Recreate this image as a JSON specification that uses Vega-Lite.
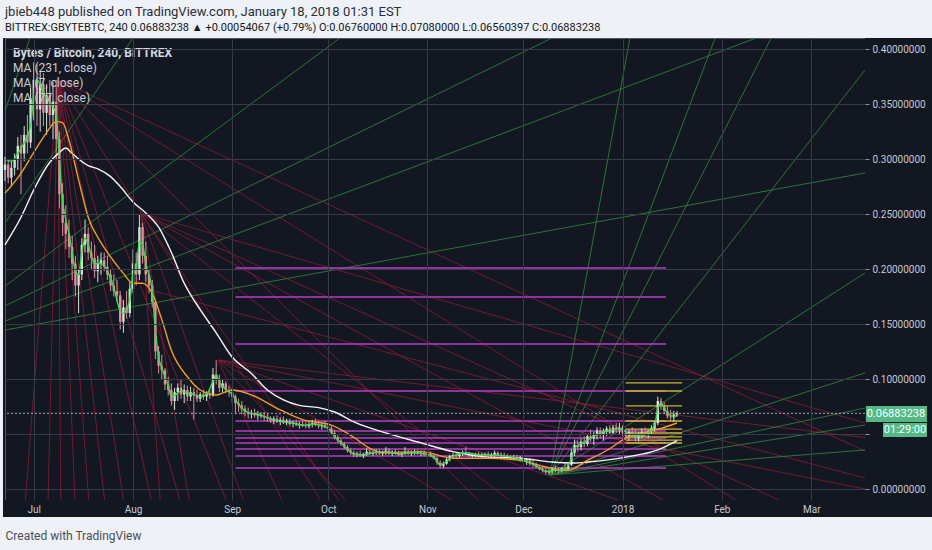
{
  "$schema": "https://vega.github.io/schema/vega-lite/v6.json",
  "description": "Bytes / Bitcoin 4h chart with moving averages, fan lines and levels (TradingView style).",
  "autosize": "none",
  "width": 860,
  "height": 462,
  "padding": {"left": 5, "top": 38, "right": 67, "bottom": 50},
  "background": "#eef1f6",
  "title": {
    "text": "jbieb448 published on TradingView.com, January 18, 2018 01:31 EST",
    "subtitle": "BITTREX:GBYTEBTC, 240 0.06883238 ▲ +0.00054067 (+0.79%) O:0.06760000 H:0.07080000 L:0.06560397 C:0.06883238",
    "anchor": "start",
    "frame": "group",
    "offset": 5,
    "font": "Roboto",
    "fontSize": 13,
    "fontWeight": "normal",
    "color": "#2a2e39",
    "subtitleFont": "Roboto",
    "subtitleFontSize": 11,
    "subtitleColor": "#131722",
    "subtitlePadding": 3
  },
  "datasets": {
    "panels": [
      {"d1": "2018-03-17T18:00:00Z", "d2": "2018-04-12", "p1": -0.0255, "p2": 0.41, "k": "bg"},
      {"d1": "2017-06-21T09:00:00Z", "d2": "2018-04-12", "p1": -0.0255, "p2": -0.01, "k": "bg"},
      {"d1": "2017-06-21T09:00:00Z", "d2": "2017-06-22", "p1": -0.0255, "p2": 0.41, "k": "bg"},
      {"d1": "2018-03-18T01:00:00Z", "d2": "2018-04-06T03:00:00Z", "p1": 0.0609, "p2": 0.0755, "k": "box"},
      {"d1": "2018-03-23T09:00:00Z", "d2": "2018-04-06T03:00:00Z", "p1": 0.0473, "p2": 0.0600, "k": "box"}
    ],
    "fans": [
      {"d1": "2017-06-22", "p1": 0.1845, "d2": "2017-10-04T17:00:00Z", "p2": 0.41, "k": "g"},
      {"d1": "2017-06-22", "p1": 0.1664, "d2": "2017-12-09T22:00:00Z", "p2": 0.41, "k": "g"},
      {"d1": "2017-06-22", "p1": 0.1527, "d2": "2018-02-11T17:00:00Z", "p2": 0.41, "k": "g"},
      {"d1": "2017-06-22", "p1": 0.1445, "d2": "2018-03-17T18:00:00Z", "p2": 0.2873, "k": "g"},
      {"d1": "2017-06-22", "p1": 0.2418, "d2": "2017-08-01", "p2": 0.41, "k": "g"},
      {"d1": "2017-06-22", "p1": 0.3436, "d2": "2017-06-29T19:00:00Z", "p2": 0.41, "k": "g"},
      {"d1": "2017-12-09T08:00:00Z", "p1": 0.0127, "d2": "2018-01-03T07:00:00Z", "p2": 0.41, "k": "g"},
      {"d1": "2017-12-09T08:00:00Z", "p1": 0.0127, "d2": "2018-01-29T22:00:00Z", "p2": 0.41, "k": "g"},
      {"d1": "2017-12-09T08:00:00Z", "p1": 0.0127, "d2": "2018-02-16T10:00:00Z", "p2": 0.41, "k": "g"},
      {"d1": "2017-12-09T08:00:00Z", "p1": 0.0127, "d2": "2018-03-17T18:00:00Z", "p2": 0.381, "k": "g"},
      {"d1": "2017-12-09T08:00:00Z", "p1": 0.0127, "d2": "2018-03-17T18:00:00Z", "p2": 0.1964, "k": "g"},
      {"d1": "2017-12-09T08:00:00Z", "p1": 0.0127, "d2": "2018-03-17T18:00:00Z", "p2": 0.1055, "k": "g"},
      {"d1": "2017-12-09T08:00:00Z", "p1": 0.0127, "d2": "2018-03-17T18:00:00Z", "p2": 0.0736, "k": "g"},
      {"d1": "2017-12-09T08:00:00Z", "p1": 0.0127, "d2": "2018-03-17T18:00:00Z", "p2": 0.0582, "k": "g"},
      {"d1": "2017-12-09T08:00:00Z", "p1": 0.0127, "d2": "2018-03-17T18:00:00Z", "p2": 0.0355, "k": "g"},
      {"d1": "2017-07-08T13:00:00Z", "p1": 0.3718, "d2": "2018-02-07T19:00:00Z", "p2": -0.0145, "k": "r"},
      {"d1": "2017-07-08T13:00:00Z", "p1": 0.3718, "d2": "2018-03-17T18:00:00Z", "p2": 0.0345, "k": "r"},
      {"d1": "2017-07-08T13:00:00Z", "p1": 0.3718, "d2": "2017-11-18T10:00:00Z", "p2": -0.0145, "k": "r"},
      {"d1": "2017-07-08T13:00:00Z", "p1": 0.3718, "d2": "2017-09-29T14:00:00Z", "p2": -0.0145, "k": "r"},
      {"d1": "2017-07-08T13:00:00Z", "p1": 0.3718, "d2": "2017-08-30T17:00:00Z", "p2": -0.0145, "k": "r"},
      {"d1": "2017-07-08T13:00:00Z", "p1": 0.3718, "d2": "2017-08-16T02:00:00Z", "p2": -0.0145, "k": "r"},
      {"d1": "2017-07-08T13:00:00Z", "p1": 0.3718, "d2": "2017-08-07T02:00:00Z", "p2": -0.0145, "k": "r"},
      {"d1": "2017-07-08T13:00:00Z", "p1": 0.3718, "d2": "2017-07-29T07:00:00Z", "p2": -0.0145, "k": "r"},
      {"d1": "2017-07-08T13:00:00Z", "p1": 0.3718, "d2": "2017-07-23T07:00:00Z", "p2": -0.0145, "k": "r"},
      {"d1": "2017-07-08T13:00:00Z", "p1": 0.3718, "d2": "2017-07-18T07:00:00Z", "p2": -0.0145, "k": "r"},
      {"d1": "2017-07-08T13:00:00Z", "p1": 0.3718, "d2": "2017-07-13T22:00:00Z", "p2": -0.0145, "k": "r"},
      {"d1": "2017-07-08T13:00:00Z", "p1": 0.3718, "d2": "2017-07-09T10:00:00Z", "p2": -0.0145, "k": "r"},
      {"d1": "2017-07-08T13:00:00Z", "p1": 0.3718, "d2": "2017-07-05T10:00:00Z", "p2": -0.0145, "k": "r"},
      {"d1": "2017-07-08T13:00:00Z", "p1": 0.3718, "d2": "2017-06-28T06:00:00Z", "p2": -0.0145, "k": "r"},
      {"d1": "2017-08-03T12:00:00Z", "p1": 0.2509, "d2": "2018-03-17T18:00:00Z", "p2": 0.060, "k": "r"},
      {"d1": "2017-08-03T12:00:00Z", "p1": 0.2509, "d2": "2018-02-22T07:00:00Z", "p2": -0.0145, "k": "r"},
      {"d1": "2017-08-03T12:00:00Z", "p1": 0.2509, "d2": "2018-01-16T10:00:00Z", "p2": -0.0145, "k": "r"},
      {"d1": "2017-08-03T12:00:00Z", "p1": 0.2509, "d2": "2017-11-28T10:00:00Z", "p2": -0.0145, "k": "r"},
      {"d1": "2017-08-03T12:00:00Z", "p1": 0.2509, "d2": "2017-10-05T07:00:00Z", "p2": -0.0145, "k": "r"},
      {"d1": "2017-08-03T12:00:00Z", "p1": 0.2509, "d2": "2017-09-05", "p2": -0.0145, "k": "r"},
      {"d1": "2017-08-03T12:00:00Z", "p1": 0.2509, "d2": "2017-08-18T19:00:00Z", "p2": -0.0145, "k": "r"},
      {"d1": "2017-08-03T12:00:00Z", "p1": 0.2509, "d2": "2017-08-09T14:00:00Z", "p2": -0.0145, "k": "r"},
      {"d1": "2017-08-27T13:00:00Z", "p1": 0.1173, "d2": "2018-03-17T18:00:00Z", "p2": 0.0467, "k": "r"},
      {"d1": "2017-08-27T13:00:00Z", "p1": 0.1173, "d2": "2018-03-17T18:00:00Z", "p2": 0.0, "k": "r"},
      {"d1": "2017-08-27T13:00:00Z", "p1": 0.1173, "d2": "2018-01-03T22:00:00Z", "p2": -0.0145, "k": "r"},
      {"d1": "2017-08-27T13:00:00Z", "p1": 0.1173, "d2": "2017-11-11T05:00:00Z", "p2": -0.0145, "k": "r"},
      {"d1": "2017-08-27T13:00:00Z", "p1": 0.1173, "d2": "2017-10-07T19:00:00Z", "p2": -0.0145, "k": "r"},
      {"d1": "2017-08-27T13:00:00Z", "p1": 0.1173, "d2": "2017-09-17T05:00:00Z", "p2": -0.0145, "k": "r"},
      {"d1": "2017-08-06T07:00:00Z", "p1": 0.1809, "d2": "2018-03-17T18:00:00Z", "p2": 0.010, "k": "r"}
    ],
    "levels": [
      {"d1": "2017-09-02", "d2": "2018-01-14T14:00:00Z", "p": 0.2009, "k": "m"},
      {"d1": "2017-09-02", "d2": "2018-01-14T14:00:00Z", "p": 0.1745, "k": "m"},
      {"d1": "2017-09-02", "d2": "2018-01-14T14:00:00Z", "p": 0.1318, "k": "m"},
      {"d1": "2017-09-02", "d2": "2018-01-14T14:00:00Z", "p": 0.0891, "k": "m"},
      {"d1": "2017-09-02", "d2": "2018-01-14T14:00:00Z", "p": 0.0618, "k": "m"},
      {"d1": "2017-09-02", "d2": "2018-01-14T14:00:00Z", "p": 0.0527, "k": "m"},
      {"d1": "2017-09-02", "d2": "2018-01-14T14:00:00Z", "p": 0.0464, "k": "m"},
      {"d1": "2017-09-02", "d2": "2018-01-14T14:00:00Z", "p": 0.0418, "k": "m"},
      {"d1": "2017-09-02", "d2": "2018-01-14T14:00:00Z", "p": 0.0364, "k": "m"},
      {"d1": "2017-09-02", "d2": "2018-01-14T14:00:00Z", "p": 0.0300, "k": "m"},
      {"d1": "2017-09-02", "d2": "2018-01-14T14:00:00Z", "p": 0.0191, "k": "m"},
      {"d1": "2018-01-02", "d2": "2018-01-19T14:00:00Z", "p": 0.0964, "k": "y"},
      {"d1": "2018-01-02", "d2": "2018-01-19T14:00:00Z", "p": 0.0891, "k": "y"},
      {"d1": "2018-01-02", "d2": "2018-01-19T14:00:00Z", "p": 0.0755, "k": "y"},
      {"d1": "2018-01-02", "d2": "2018-01-19T14:00:00Z", "p": 0.0618, "k": "y"},
      {"d1": "2018-01-02", "d2": "2018-01-19T14:00:00Z", "p": 0.0545, "k": "y"},
      {"d1": "2018-01-02", "d2": "2018-01-19T14:00:00Z", "p": 0.0509, "k": "y"},
      {"d1": "2018-01-02", "d2": "2018-01-19T14:00:00Z", "p": 0.0473, "k": "y"},
      {"d1": "2018-01-02", "d2": "2018-01-19T14:00:00Z", "p": 0.0445, "k": "y"},
      {"d1": "2018-01-02", "d2": "2018-01-19T14:00:00Z", "p": 0.0418, "k": "y"}
    ],
    "candles": [
      {"d": "2017-06-22", "o": 0.290, "h": 0.302, "l": 0.280, "c": 0.295},
      {"d": "2017-06-23", "o": 0.295, "h": 0.300, "l": 0.278, "c": 0.283},
      {"d": "2017-06-24", "o": 0.283, "h": 0.298, "l": 0.275, "c": 0.292},
      {"d": "2017-06-25", "o": 0.292, "h": 0.305, "l": 0.285, "c": 0.300},
      {"d": "2017-06-26", "o": 0.300, "h": 0.320, "l": 0.290, "c": 0.312},
      {"d": "2017-06-27", "o": 0.312, "h": 0.322, "l": 0.268, "c": 0.305},
      {"d": "2017-06-28", "o": 0.305, "h": 0.330, "l": 0.298, "c": 0.322},
      {"d": "2017-06-29", "o": 0.322, "h": 0.340, "l": 0.305, "c": 0.315},
      {"d": "2017-06-30", "o": 0.315, "h": 0.365, "l": 0.310, "c": 0.355},
      {"d": "2017-07-01", "o": 0.355, "h": 0.388, "l": 0.335, "c": 0.372},
      {"d": "2017-07-02", "o": 0.372, "h": 0.386, "l": 0.330, "c": 0.345},
      {"d": "2017-07-03", "o": 0.345, "h": 0.380, "l": 0.325, "c": 0.368},
      {"d": "2017-07-04", "o": 0.368, "h": 0.378, "l": 0.330, "c": 0.342},
      {"d": "2017-07-05", "o": 0.342, "h": 0.368, "l": 0.322, "c": 0.358},
      {"d": "2017-07-06", "o": 0.358, "h": 0.372, "l": 0.330, "c": 0.340},
      {"d": "2017-07-07", "o": 0.340, "h": 0.370, "l": 0.318, "c": 0.352},
      {"d": "2017-07-08", "o": 0.352, "h": 0.372, "l": 0.300, "c": 0.318},
      {"d": "2017-07-09", "o": 0.318, "h": 0.325, "l": 0.255, "c": 0.268},
      {"d": "2017-07-10", "o": 0.268, "h": 0.278, "l": 0.230, "c": 0.242},
      {"d": "2017-07-11", "o": 0.242, "h": 0.258, "l": 0.218, "c": 0.232},
      {"d": "2017-07-12", "o": 0.232, "h": 0.245, "l": 0.210, "c": 0.220},
      {"d": "2017-07-13", "o": 0.220, "h": 0.230, "l": 0.190, "c": 0.205},
      {"d": "2017-07-14", "o": 0.205, "h": 0.212, "l": 0.175, "c": 0.185},
      {"d": "2017-07-15", "o": 0.185, "h": 0.200, "l": 0.160, "c": 0.195},
      {"d": "2017-07-16", "o": 0.195, "h": 0.228, "l": 0.190, "c": 0.222},
      {"d": "2017-07-17", "o": 0.222, "h": 0.245, "l": 0.215, "c": 0.232},
      {"d": "2017-07-18", "o": 0.232, "h": 0.238, "l": 0.208, "c": 0.215},
      {"d": "2017-07-19", "o": 0.215, "h": 0.225, "l": 0.200, "c": 0.210},
      {"d": "2017-07-20", "o": 0.210, "h": 0.222, "l": 0.192, "c": 0.198},
      {"d": "2017-07-21", "o": 0.198, "h": 0.212, "l": 0.188, "c": 0.205},
      {"d": "2017-07-22", "o": 0.205, "h": 0.215, "l": 0.195, "c": 0.208},
      {"d": "2017-07-23", "o": 0.208, "h": 0.215, "l": 0.198, "c": 0.202},
      {"d": "2017-07-24", "o": 0.202, "h": 0.212, "l": 0.190, "c": 0.195},
      {"d": "2017-07-25", "o": 0.195, "h": 0.200, "l": 0.180, "c": 0.185},
      {"d": "2017-07-26", "o": 0.185, "h": 0.195, "l": 0.175, "c": 0.180},
      {"d": "2017-07-27", "o": 0.180, "h": 0.190, "l": 0.170, "c": 0.176},
      {"d": "2017-07-28", "o": 0.176, "h": 0.180, "l": 0.145, "c": 0.152},
      {"d": "2017-07-29", "o": 0.152, "h": 0.172, "l": 0.142, "c": 0.165},
      {"d": "2017-07-30", "o": 0.165, "h": 0.180, "l": 0.155, "c": 0.160},
      {"d": "2017-07-31", "o": 0.160, "h": 0.188, "l": 0.156, "c": 0.182},
      {"d": "2017-08-01", "o": 0.182, "h": 0.218, "l": 0.178, "c": 0.205},
      {"d": "2017-08-02", "o": 0.205, "h": 0.215, "l": 0.185, "c": 0.195},
      {"d": "2017-08-03", "o": 0.195, "h": 0.250, "l": 0.190, "c": 0.238},
      {"d": "2017-08-04", "o": 0.238, "h": 0.242, "l": 0.205, "c": 0.212},
      {"d": "2017-08-05", "o": 0.212, "h": 0.225, "l": 0.188, "c": 0.195},
      {"d": "2017-08-06", "o": 0.195, "h": 0.200, "l": 0.178, "c": 0.185},
      {"d": "2017-08-07", "o": 0.185, "h": 0.190, "l": 0.165, "c": 0.170},
      {"d": "2017-08-08", "o": 0.170, "h": 0.172, "l": 0.118, "c": 0.125},
      {"d": "2017-08-09", "o": 0.125, "h": 0.130, "l": 0.105, "c": 0.112},
      {"d": "2017-08-10", "o": 0.112, "h": 0.122, "l": 0.100, "c": 0.108},
      {"d": "2017-08-11", "o": 0.108, "h": 0.110, "l": 0.090, "c": 0.095},
      {"d": "2017-08-12", "o": 0.095, "h": 0.102, "l": 0.085, "c": 0.090},
      {"d": "2017-08-13", "o": 0.090, "h": 0.096, "l": 0.076, "c": 0.080},
      {"d": "2017-08-14", "o": 0.080, "h": 0.092, "l": 0.072, "c": 0.088},
      {"d": "2017-08-15", "o": 0.088, "h": 0.096, "l": 0.080, "c": 0.092},
      {"d": "2017-08-16", "o": 0.092, "h": 0.100, "l": 0.082, "c": 0.086},
      {"d": "2017-08-17", "o": 0.086, "h": 0.095, "l": 0.078, "c": 0.090},
      {"d": "2017-08-18", "o": 0.090, "h": 0.094, "l": 0.080, "c": 0.084},
      {"d": "2017-08-19", "o": 0.084, "h": 0.093, "l": 0.080, "c": 0.088},
      {"d": "2017-08-20", "o": 0.088, "h": 0.092, "l": 0.063, "c": 0.085},
      {"d": "2017-08-21", "o": 0.085, "h": 0.090, "l": 0.079, "c": 0.082},
      {"d": "2017-08-22", "o": 0.082, "h": 0.088, "l": 0.079, "c": 0.086},
      {"d": "2017-08-23", "o": 0.086, "h": 0.090, "l": 0.081, "c": 0.084},
      {"d": "2017-08-24", "o": 0.084, "h": 0.089, "l": 0.080, "c": 0.087},
      {"d": "2017-08-25", "o": 0.087, "h": 0.090, "l": 0.082, "c": 0.085},
      {"d": "2017-08-26", "o": 0.085, "h": 0.110, "l": 0.084, "c": 0.104},
      {"d": "2017-08-27", "o": 0.104, "h": 0.117, "l": 0.095, "c": 0.100},
      {"d": "2017-08-28", "o": 0.100, "h": 0.104, "l": 0.088, "c": 0.092},
      {"d": "2017-08-29", "o": 0.092, "h": 0.100, "l": 0.088, "c": 0.096},
      {"d": "2017-08-30", "o": 0.096, "h": 0.098, "l": 0.087, "c": 0.090},
      {"d": "2017-08-31", "o": 0.090, "h": 0.094, "l": 0.084, "c": 0.088},
      {"d": "2017-09-01", "o": 0.088, "h": 0.092, "l": 0.078, "c": 0.084},
      {"d": "2017-09-02", "o": 0.084, "h": 0.086, "l": 0.068, "c": 0.078},
      {"d": "2017-09-03", "o": 0.078, "h": 0.082, "l": 0.070, "c": 0.076},
      {"d": "2017-09-04", "o": 0.076, "h": 0.080, "l": 0.068, "c": 0.073},
      {"d": "2017-09-05", "o": 0.073, "h": 0.076, "l": 0.066, "c": 0.070},
      {"d": "2017-09-06", "o": 0.070, "h": 0.074, "l": 0.064, "c": 0.068},
      {"d": "2017-09-07", "o": 0.068, "h": 0.072, "l": 0.064, "c": 0.069},
      {"d": "2017-09-08", "o": 0.069, "h": 0.073, "l": 0.065, "c": 0.067},
      {"d": "2017-09-09", "o": 0.067, "h": 0.071, "l": 0.063, "c": 0.068},
      {"d": "2017-09-10", "o": 0.068, "h": 0.070, "l": 0.064, "c": 0.066},
      {"d": "2017-09-11", "o": 0.066, "h": 0.070, "l": 0.062, "c": 0.065},
      {"d": "2017-09-12", "o": 0.065, "h": 0.068, "l": 0.061, "c": 0.064},
      {"d": "2017-09-13", "o": 0.064, "h": 0.066, "l": 0.060, "c": 0.062},
      {"d": "2017-09-14", "o": 0.062, "h": 0.066, "l": 0.059, "c": 0.064},
      {"d": "2017-09-15", "o": 0.064, "h": 0.067, "l": 0.060, "c": 0.061},
      {"d": "2017-09-16", "o": 0.061, "h": 0.065, "l": 0.058, "c": 0.063},
      {"d": "2017-09-17", "o": 0.063, "h": 0.066, "l": 0.059, "c": 0.060},
      {"d": "2017-09-18", "o": 0.060, "h": 0.064, "l": 0.058, "c": 0.062},
      {"d": "2017-09-19", "o": 0.062, "h": 0.064, "l": 0.057, "c": 0.059},
      {"d": "2017-09-20", "o": 0.059, "h": 0.062, "l": 0.056, "c": 0.060},
      {"d": "2017-09-21", "o": 0.060, "h": 0.063, "l": 0.057, "c": 0.058},
      {"d": "2017-09-22", "o": 0.058, "h": 0.061, "l": 0.055, "c": 0.059},
      {"d": "2017-09-23", "o": 0.059, "h": 0.062, "l": 0.056, "c": 0.058},
      {"d": "2017-09-24", "o": 0.058, "h": 0.061, "l": 0.055, "c": 0.057},
      {"d": "2017-09-25", "o": 0.057, "h": 0.061, "l": 0.055, "c": 0.059},
      {"d": "2017-09-26", "o": 0.059, "h": 0.063, "l": 0.056, "c": 0.060},
      {"d": "2017-09-27", "o": 0.060, "h": 0.064, "l": 0.057, "c": 0.058},
      {"d": "2017-09-28", "o": 0.058, "h": 0.062, "l": 0.055, "c": 0.057},
      {"d": "2017-09-29", "o": 0.057, "h": 0.060, "l": 0.054, "c": 0.058},
      {"d": "2017-09-30", "o": 0.058, "h": 0.062, "l": 0.055, "c": 0.056},
      {"d": "2017-10-01", "o": 0.056, "h": 0.060, "l": 0.053, "c": 0.055},
      {"d": "2017-10-02", "o": 0.055, "h": 0.057, "l": 0.049, "c": 0.051},
      {"d": "2017-10-03", "o": 0.051, "h": 0.054, "l": 0.045, "c": 0.047},
      {"d": "2017-10-04", "o": 0.047, "h": 0.050, "l": 0.042, "c": 0.044},
      {"d": "2017-10-05", "o": 0.044, "h": 0.046, "l": 0.039, "c": 0.041},
      {"d": "2017-10-06", "o": 0.041, "h": 0.043, "l": 0.036, "c": 0.038},
      {"d": "2017-10-07", "o": 0.038, "h": 0.040, "l": 0.033, "c": 0.035},
      {"d": "2017-10-08", "o": 0.035, "h": 0.037, "l": 0.031, "c": 0.033},
      {"d": "2017-10-09", "o": 0.033, "h": 0.035, "l": 0.029, "c": 0.031},
      {"d": "2017-10-10", "o": 0.031, "h": 0.034, "l": 0.029, "c": 0.032},
      {"d": "2017-10-11", "o": 0.032, "h": 0.035, "l": 0.029, "c": 0.030},
      {"d": "2017-10-12", "o": 0.030, "h": 0.033, "l": 0.028, "c": 0.032},
      {"d": "2017-10-13", "o": 0.032, "h": 0.037, "l": 0.030, "c": 0.034},
      {"d": "2017-10-14", "o": 0.034, "h": 0.036, "l": 0.031, "c": 0.032},
      {"d": "2017-10-15", "o": 0.032, "h": 0.035, "l": 0.030, "c": 0.033},
      {"d": "2017-10-16", "o": 0.033, "h": 0.036, "l": 0.031, "c": 0.034},
      {"d": "2017-10-17", "o": 0.034, "h": 0.036, "l": 0.031, "c": 0.032},
      {"d": "2017-10-18", "o": 0.032, "h": 0.035, "l": 0.030, "c": 0.033},
      {"d": "2017-10-19", "o": 0.033, "h": 0.038, "l": 0.031, "c": 0.035},
      {"d": "2017-10-20", "o": 0.035, "h": 0.037, "l": 0.031, "c": 0.032},
      {"d": "2017-10-21", "o": 0.032, "h": 0.035, "l": 0.030, "c": 0.034},
      {"d": "2017-10-22", "o": 0.034, "h": 0.036, "l": 0.031, "c": 0.033},
      {"d": "2017-10-23", "o": 0.033, "h": 0.035, "l": 0.030, "c": 0.031},
      {"d": "2017-10-24", "o": 0.031, "h": 0.034, "l": 0.029, "c": 0.033},
      {"d": "2017-10-25", "o": 0.033, "h": 0.038, "l": 0.031, "c": 0.034},
      {"d": "2017-10-26", "o": 0.034, "h": 0.036, "l": 0.031, "c": 0.032},
      {"d": "2017-10-27", "o": 0.032, "h": 0.035, "l": 0.030, "c": 0.033},
      {"d": "2017-10-28", "o": 0.033, "h": 0.036, "l": 0.031, "c": 0.034},
      {"d": "2017-10-29", "o": 0.034, "h": 0.036, "l": 0.031, "c": 0.032},
      {"d": "2017-10-30", "o": 0.032, "h": 0.035, "l": 0.030, "c": 0.033},
      {"d": "2017-10-31", "o": 0.033, "h": 0.035, "l": 0.030, "c": 0.031},
      {"d": "2017-11-01", "o": 0.031, "h": 0.034, "l": 0.029, "c": 0.032},
      {"d": "2017-11-02", "o": 0.032, "h": 0.034, "l": 0.029, "c": 0.030},
      {"d": "2017-11-03", "o": 0.030, "h": 0.032, "l": 0.027, "c": 0.028},
      {"d": "2017-11-04", "o": 0.028, "h": 0.029, "l": 0.022, "c": 0.024},
      {"d": "2017-11-05", "o": 0.024, "h": 0.026, "l": 0.019, "c": 0.021},
      {"d": "2017-11-06", "o": 0.021, "h": 0.025, "l": 0.019, "c": 0.023},
      {"d": "2017-11-07", "o": 0.023, "h": 0.028, "l": 0.022, "c": 0.027},
      {"d": "2017-11-08", "o": 0.027, "h": 0.031, "l": 0.025, "c": 0.030},
      {"d": "2017-11-09", "o": 0.030, "h": 0.033, "l": 0.028, "c": 0.031},
      {"d": "2017-11-10", "o": 0.031, "h": 0.033, "l": 0.028, "c": 0.030},
      {"d": "2017-11-11", "o": 0.030, "h": 0.033, "l": 0.028, "c": 0.032},
      {"d": "2017-11-12", "o": 0.032, "h": 0.035, "l": 0.030, "c": 0.033},
      {"d": "2017-11-13", "o": 0.033, "h": 0.038, "l": 0.031, "c": 0.032},
      {"d": "2017-11-14", "o": 0.032, "h": 0.034, "l": 0.029, "c": 0.030},
      {"d": "2017-11-15", "o": 0.030, "h": 0.033, "l": 0.028, "c": 0.031},
      {"d": "2017-11-16", "o": 0.031, "h": 0.033, "l": 0.029, "c": 0.032},
      {"d": "2017-11-17", "o": 0.032, "h": 0.034, "l": 0.029, "c": 0.030},
      {"d": "2017-11-18", "o": 0.030, "h": 0.033, "l": 0.028, "c": 0.031},
      {"d": "2017-11-19", "o": 0.031, "h": 0.033, "l": 0.029, "c": 0.032},
      {"d": "2017-11-20", "o": 0.032, "h": 0.034, "l": 0.029, "c": 0.030},
      {"d": "2017-11-21", "o": 0.030, "h": 0.033, "l": 0.028, "c": 0.031},
      {"d": "2017-11-22", "o": 0.031, "h": 0.035, "l": 0.029, "c": 0.033},
      {"d": "2017-11-23", "o": 0.033, "h": 0.034, "l": 0.029, "c": 0.030},
      {"d": "2017-11-24", "o": 0.030, "h": 0.033, "l": 0.028, "c": 0.031},
      {"d": "2017-11-25", "o": 0.031, "h": 0.033, "l": 0.028, "c": 0.030},
      {"d": "2017-11-26", "o": 0.030, "h": 0.032, "l": 0.027, "c": 0.029},
      {"d": "2017-11-27", "o": 0.029, "h": 0.031, "l": 0.026, "c": 0.028},
      {"d": "2017-11-28", "o": 0.028, "h": 0.031, "l": 0.026, "c": 0.029},
      {"d": "2017-11-29", "o": 0.029, "h": 0.031, "l": 0.026, "c": 0.027},
      {"d": "2017-11-30", "o": 0.027, "h": 0.030, "l": 0.025, "c": 0.028},
      {"d": "2017-12-01", "o": 0.028, "h": 0.030, "l": 0.024, "c": 0.025},
      {"d": "2017-12-02", "o": 0.025, "h": 0.028, "l": 0.022, "c": 0.026},
      {"d": "2017-12-03", "o": 0.026, "h": 0.028, "l": 0.021, "c": 0.023},
      {"d": "2017-12-04", "o": 0.023, "h": 0.026, "l": 0.020, "c": 0.022},
      {"d": "2017-12-05", "o": 0.022, "h": 0.024, "l": 0.019, "c": 0.020},
      {"d": "2017-12-06", "o": 0.020, "h": 0.022, "l": 0.017, "c": 0.018},
      {"d": "2017-12-07", "o": 0.018, "h": 0.021, "l": 0.015, "c": 0.017},
      {"d": "2017-12-08", "o": 0.017, "h": 0.019, "l": 0.013, "c": 0.015},
      {"d": "2017-12-09", "o": 0.015, "h": 0.018, "l": 0.013, "c": 0.016},
      {"d": "2017-12-10", "o": 0.016, "h": 0.020, "l": 0.014, "c": 0.018},
      {"d": "2017-12-11", "o": 0.018, "h": 0.021, "l": 0.015, "c": 0.017},
      {"d": "2017-12-12", "o": 0.017, "h": 0.020, "l": 0.014, "c": 0.016},
      {"d": "2017-12-13", "o": 0.016, "h": 0.020, "l": 0.015, "c": 0.019},
      {"d": "2017-12-14", "o": 0.019, "h": 0.024, "l": 0.016, "c": 0.018},
      {"d": "2017-12-15", "o": 0.018, "h": 0.024, "l": 0.017, "c": 0.022},
      {"d": "2017-12-16", "o": 0.022, "h": 0.036, "l": 0.021, "c": 0.033},
      {"d": "2017-12-17", "o": 0.033, "h": 0.045, "l": 0.030, "c": 0.040},
      {"d": "2017-12-18", "o": 0.040, "h": 0.044, "l": 0.034, "c": 0.038},
      {"d": "2017-12-19", "o": 0.038, "h": 0.046, "l": 0.035, "c": 0.043},
      {"d": "2017-12-20", "o": 0.043, "h": 0.048, "l": 0.038, "c": 0.041},
      {"d": "2017-12-21", "o": 0.041, "h": 0.050, "l": 0.039, "c": 0.048},
      {"d": "2017-12-22", "o": 0.048, "h": 0.054, "l": 0.043, "c": 0.046},
      {"d": "2017-12-23", "o": 0.046, "h": 0.052, "l": 0.040, "c": 0.050},
      {"d": "2017-12-24", "o": 0.050, "h": 0.056, "l": 0.045, "c": 0.053},
      {"d": "2017-12-25", "o": 0.053, "h": 0.056, "l": 0.046, "c": 0.049},
      {"d": "2017-12-26", "o": 0.049, "h": 0.055, "l": 0.044, "c": 0.052},
      {"d": "2017-12-27", "o": 0.052, "h": 0.057, "l": 0.048, "c": 0.055},
      {"d": "2017-12-28", "o": 0.055, "h": 0.058, "l": 0.049, "c": 0.051},
      {"d": "2017-12-29", "o": 0.051, "h": 0.058, "l": 0.049, "c": 0.056},
      {"d": "2017-12-30", "o": 0.056, "h": 0.060, "l": 0.051, "c": 0.054},
      {"d": "2017-12-31", "o": 0.054, "h": 0.060, "l": 0.050, "c": 0.056},
      {"d": "2018-01-01", "o": 0.056, "h": 0.058, "l": 0.048, "c": 0.051},
      {"d": "2018-01-02", "o": 0.051, "h": 0.055, "l": 0.045, "c": 0.048},
      {"d": "2018-01-03", "o": 0.048, "h": 0.054, "l": 0.044, "c": 0.052},
      {"d": "2018-01-04", "o": 0.052, "h": 0.056, "l": 0.047, "c": 0.050},
      {"d": "2018-01-05", "o": 0.050, "h": 0.054, "l": 0.043, "c": 0.046},
      {"d": "2018-01-06", "o": 0.046, "h": 0.052, "l": 0.043, "c": 0.050},
      {"d": "2018-01-07", "o": 0.050, "h": 0.055, "l": 0.046, "c": 0.052},
      {"d": "2018-01-08", "o": 0.052, "h": 0.056, "l": 0.047, "c": 0.049},
      {"d": "2018-01-09", "o": 0.049, "h": 0.054, "l": 0.046, "c": 0.053},
      {"d": "2018-01-10", "o": 0.053, "h": 0.058, "l": 0.050, "c": 0.055},
      {"d": "2018-01-11", "o": 0.055, "h": 0.062, "l": 0.052, "c": 0.060},
      {"d": "2018-01-12", "o": 0.060, "h": 0.084, "l": 0.058, "c": 0.080},
      {"d": "2018-01-13", "o": 0.080, "h": 0.083, "l": 0.072, "c": 0.076},
      {"d": "2018-01-14", "o": 0.076, "h": 0.079, "l": 0.068, "c": 0.071},
      {"d": "2018-01-15", "o": 0.071, "h": 0.075, "l": 0.064, "c": 0.066},
      {"d": "2018-01-16", "o": 0.066, "h": 0.072, "l": 0.062, "c": 0.065},
      {"d": "2018-01-17", "o": 0.065, "h": 0.071, "l": 0.061, "c": 0.0676},
      {"d": "2018-01-18", "o": 0.0676, "h": 0.0708, "l": 0.0656, "c": 0.06883238}
    ],
    "ma": [
      {"d": "2017-06-22", "v": 0.222, "s": "MA231"}, {"d": "2017-06-27", "v": 0.247, "s": "MA231"},
      {"d": "2017-07-01", "v": 0.272, "s": "MA231"}, {"d": "2017-07-06", "v": 0.297, "s": "MA231"},
      {"d": "2017-07-09", "v": 0.306, "s": "MA231"}, {"d": "2017-07-11", "v": 0.310, "s": "MA231"},
      {"d": "2017-07-13", "v": 0.305, "s": "MA231"}, {"d": "2017-07-18", "v": 0.294, "s": "MA231"},
      {"d": "2017-07-21", "v": 0.291, "s": "MA231"}, {"d": "2017-07-25", "v": 0.284, "s": "MA231"},
      {"d": "2017-07-28", "v": 0.275, "s": "MA231"}, {"d": "2017-08-01", "v": 0.261, "s": "MA231"},
      {"d": "2017-08-05", "v": 0.251, "s": "MA231"}, {"d": "2017-08-09", "v": 0.238, "s": "MA231"},
      {"d": "2017-08-13", "v": 0.215, "s": "MA231"}, {"d": "2017-08-17", "v": 0.187, "s": "MA231"},
      {"d": "2017-08-22", "v": 0.163, "s": "MA231"}, {"d": "2017-08-27", "v": 0.142, "s": "MA231"},
      {"d": "2017-09-01", "v": 0.120, "s": "MA231"}, {"d": "2017-09-07", "v": 0.105, "s": "MA231"},
      {"d": "2017-09-12", "v": 0.090, "s": "MA231"}, {"d": "2017-09-17", "v": 0.081, "s": "MA231"},
      {"d": "2017-09-22", "v": 0.076, "s": "MA231"}, {"d": "2017-09-28", "v": 0.074, "s": "MA231"},
      {"d": "2017-10-03", "v": 0.070, "s": "MA231"}, {"d": "2017-10-09", "v": 0.061, "s": "MA231"},
      {"d": "2017-10-19", "v": 0.051, "s": "MA231"}, {"d": "2017-10-30", "v": 0.042, "s": "MA231"},
      {"d": "2017-11-09", "v": 0.034, "s": "MA231"}, {"d": "2017-11-20", "v": 0.029, "s": "MA231"},
      {"d": "2017-11-30", "v": 0.028, "s": "MA231"}, {"d": "2017-12-10", "v": 0.0245, "s": "MA231"},
      {"d": "2017-12-17", "v": 0.0236, "s": "MA231"}, {"d": "2017-12-21", "v": 0.0245, "s": "MA231"},
      {"d": "2018-01-02", "v": 0.029, "s": "MA231"}, {"d": "2018-01-12", "v": 0.0355, "s": "MA231"},
      {"d": "2018-01-18", "v": 0.044, "s": "MA231"},
      {"d": "2017-06-22", "v": 0.269, "s": "MA77"}, {"d": "2017-06-27", "v": 0.287, "s": "MA77"},
      {"d": "2017-07-01", "v": 0.306, "s": "MA77"}, {"d": "2017-07-05", "v": 0.324, "s": "MA77"},
      {"d": "2017-07-08", "v": 0.334, "s": "MA77"}, {"d": "2017-07-10", "v": 0.333, "s": "MA77"},
      {"d": "2017-07-12", "v": 0.317, "s": "MA77"}, {"d": "2017-07-15", "v": 0.281, "s": "MA77"},
      {"d": "2017-07-18", "v": 0.247, "s": "MA77"}, {"d": "2017-07-22", "v": 0.224, "s": "MA77"},
      {"d": "2017-07-25", "v": 0.211, "s": "MA77"}, {"d": "2017-07-29", "v": 0.196, "s": "MA77"},
      {"d": "2017-08-01", "v": 0.187, "s": "MA77"}, {"d": "2017-08-04", "v": 0.187, "s": "MA77"},
      {"d": "2017-08-07", "v": 0.178, "s": "MA77"}, {"d": "2017-08-10", "v": 0.154, "s": "MA77"},
      {"d": "2017-08-13", "v": 0.126, "s": "MA77"}, {"d": "2017-08-18", "v": 0.102, "s": "MA77"},
      {"d": "2017-08-22", "v": 0.090, "s": "MA77"}, {"d": "2017-08-27", "v": 0.0855, "s": "MA77"},
      {"d": "2017-09-01", "v": 0.090, "s": "MA77"}, {"d": "2017-09-07", "v": 0.0855, "s": "MA77"},
      {"d": "2017-09-16", "v": 0.072, "s": "MA77"}, {"d": "2017-09-23", "v": 0.063, "s": "MA77"},
      {"d": "2017-10-02", "v": 0.058, "s": "MA77"}, {"d": "2017-10-09", "v": 0.047, "s": "MA77"},
      {"d": "2017-10-14", "v": 0.037, "s": "MA77"}, {"d": "2017-10-19", "v": 0.033, "s": "MA77"},
      {"d": "2017-10-30", "v": 0.034, "s": "MA77"}, {"d": "2017-11-09", "v": 0.028, "s": "MA77"},
      {"d": "2017-11-20", "v": 0.028, "s": "MA77"}, {"d": "2017-11-30", "v": 0.026, "s": "MA77"},
      {"d": "2017-12-08", "v": 0.020, "s": "MA77"}, {"d": "2017-12-15", "v": 0.017, "s": "MA77"},
      {"d": "2017-12-21", "v": 0.026, "s": "MA77"}, {"d": "2017-12-27", "v": 0.035, "s": "MA77"},
      {"d": "2018-01-02", "v": 0.046, "s": "MA77"}, {"d": "2018-01-09", "v": 0.052, "s": "MA77"},
      {"d": "2018-01-13", "v": 0.055, "s": "MA77"}, {"d": "2018-01-18", "v": 0.060, "s": "MA77"},
      {"d": "2017-06-22", "v": 0.300, "s": "MA7"}, {"d": "2017-06-24", "v": 0.298, "s": "MA7"},
      {"d": "2017-06-26", "v": 0.305, "s": "MA7"}, {"d": "2017-06-28", "v": 0.315, "s": "MA7"},
      {"d": "2017-06-30", "v": 0.330, "s": "MA7"}, {"d": "2017-07-01", "v": 0.360, "s": "MA7"},
      {"d": "2017-07-02", "v": 0.372, "s": "MA7"}, {"d": "2017-07-04", "v": 0.360, "s": "MA7"},
      {"d": "2017-07-06", "v": 0.352, "s": "MA7"}, {"d": "2017-07-08", "v": 0.340, "s": "MA7"},
      {"d": "2017-07-09", "v": 0.300, "s": "MA7"}, {"d": "2017-07-10", "v": 0.262, "s": "MA7"},
      {"d": "2017-07-11", "v": 0.245, "s": "MA7"}, {"d": "2017-07-12", "v": 0.232, "s": "MA7"},
      {"d": "2017-07-13", "v": 0.215, "s": "MA7"}, {"d": "2017-07-14", "v": 0.198, "s": "MA7"},
      {"d": "2017-07-15", "v": 0.195, "s": "MA7"}, {"d": "2017-07-16", "v": 0.215, "s": "MA7"},
      {"d": "2017-07-17", "v": 0.228, "s": "MA7"}, {"d": "2017-07-18", "v": 0.222, "s": "MA7"},
      {"d": "2017-07-20", "v": 0.205, "s": "MA7"}, {"d": "2017-07-22", "v": 0.205, "s": "MA7"},
      {"d": "2017-07-24", "v": 0.198, "s": "MA7"}, {"d": "2017-07-26", "v": 0.183, "s": "MA7"},
      {"d": "2017-07-28", "v": 0.162, "s": "MA7"}, {"d": "2017-07-29", "v": 0.160, "s": "MA7"},
      {"d": "2017-07-31", "v": 0.172, "s": "MA7"}, {"d": "2017-08-01", "v": 0.195, "s": "MA7"},
      {"d": "2017-08-02", "v": 0.200, "s": "MA7"}, {"d": "2017-08-03", "v": 0.225, "s": "MA7"},
      {"d": "2017-08-04", "v": 0.222, "s": "MA7"}, {"d": "2017-08-05", "v": 0.205, "s": "MA7"},
      {"d": "2017-08-07", "v": 0.180, "s": "MA7"}, {"d": "2017-08-08", "v": 0.145, "s": "MA7"},
      {"d": "2017-08-09", "v": 0.120, "s": "MA7"}, {"d": "2017-08-10", "v": 0.110, "s": "MA7"},
      {"d": "2017-08-12", "v": 0.094, "s": "MA7"}, {"d": "2017-08-13", "v": 0.084, "s": "MA7"},
      {"d": "2017-08-14", "v": 0.085, "s": "MA7"}, {"d": "2017-08-16", "v": 0.089, "s": "MA7"},
      {"d": "2017-08-18", "v": 0.087, "s": "MA7"}, {"d": "2017-08-20", "v": 0.086, "s": "MA7"},
      {"d": "2017-08-22", "v": 0.084, "s": "MA7"}, {"d": "2017-08-24", "v": 0.086, "s": "MA7"},
      {"d": "2017-08-26", "v": 0.098, "s": "MA7"}, {"d": "2017-08-27", "v": 0.104, "s": "MA7"},
      {"d": "2017-08-28", "v": 0.097, "s": "MA7"}, {"d": "2017-08-30", "v": 0.091, "s": "MA7"},
      {"d": "2017-09-01", "v": 0.086, "s": "MA7"}, {"d": "2017-09-03", "v": 0.077, "s": "MA7"},
      {"d": "2017-09-05", "v": 0.071, "s": "MA7"}, {"d": "2017-09-08", "v": 0.068, "s": "MA7"},
      {"d": "2017-09-11", "v": 0.066, "s": "MA7"}, {"d": "2017-09-14", "v": 0.063, "s": "MA7"},
      {"d": "2017-09-17", "v": 0.061, "s": "MA7"}, {"d": "2017-09-20", "v": 0.060, "s": "MA7"},
      {"d": "2017-09-23", "v": 0.058, "s": "MA7"}, {"d": "2017-09-26", "v": 0.059, "s": "MA7"},
      {"d": "2017-09-29", "v": 0.058, "s": "MA7"}, {"d": "2017-10-01", "v": 0.055, "s": "MA7"},
      {"d": "2017-10-03", "v": 0.048, "s": "MA7"}, {"d": "2017-10-05", "v": 0.042, "s": "MA7"},
      {"d": "2017-10-07", "v": 0.036, "s": "MA7"}, {"d": "2017-10-09", "v": 0.032, "s": "MA7"},
      {"d": "2017-10-12", "v": 0.031, "s": "MA7"}, {"d": "2017-10-15", "v": 0.033, "s": "MA7"},
      {"d": "2017-10-19", "v": 0.034, "s": "MA7"}, {"d": "2017-10-23", "v": 0.032, "s": "MA7"},
      {"d": "2017-10-27", "v": 0.033, "s": "MA7"}, {"d": "2017-10-31", "v": 0.032, "s": "MA7"},
      {"d": "2017-11-03", "v": 0.029, "s": "MA7"}, {"d": "2017-11-05", "v": 0.022, "s": "MA7"},
      {"d": "2017-11-07", "v": 0.025, "s": "MA7"}, {"d": "2017-11-09", "v": 0.030, "s": "MA7"},
      {"d": "2017-11-13", "v": 0.033, "s": "MA7"}, {"d": "2017-11-17", "v": 0.031, "s": "MA7"},
      {"d": "2017-11-21", "v": 0.031, "s": "MA7"}, {"d": "2017-11-25", "v": 0.030, "s": "MA7"},
      {"d": "2017-11-29", "v": 0.028, "s": "MA7"}, {"d": "2017-12-02", "v": 0.025, "s": "MA7"},
      {"d": "2017-12-05", "v": 0.021, "s": "MA7"}, {"d": "2017-12-08", "v": 0.016, "s": "MA7"},
      {"d": "2017-12-11", "v": 0.017, "s": "MA7"}, {"d": "2017-12-14", "v": 0.018, "s": "MA7"},
      {"d": "2017-12-16", "v": 0.028, "s": "MA7"}, {"d": "2017-12-17", "v": 0.037, "s": "MA7"},
      {"d": "2017-12-19", "v": 0.041, "s": "MA7"}, {"d": "2017-12-22", "v": 0.046, "s": "MA7"},
      {"d": "2017-12-25", "v": 0.051, "s": "MA7"}, {"d": "2017-12-28", "v": 0.053, "s": "MA7"},
      {"d": "2017-12-31", "v": 0.055, "s": "MA7"}, {"d": "2018-01-03", "v": 0.050, "s": "MA7"},
      {"d": "2018-01-06", "v": 0.048, "s": "MA7"}, {"d": "2018-01-09", "v": 0.051, "s": "MA7"},
      {"d": "2018-01-11", "v": 0.058, "s": "MA7"}, {"d": "2018-01-12", "v": 0.073, "s": "MA7"},
      {"d": "2018-01-13", "v": 0.078, "s": "MA7"}, {"d": "2018-01-15", "v": 0.069, "s": "MA7"},
      {"d": "2018-01-17", "v": 0.066, "s": "MA7"}, {"d": "2018-01-18", "v": 0.067, "s": "MA7"}
    ],
    "labels": [
      {"d": "2017-06-24T12:00:00Z", "p": 0.3964, "t": "Bytes / Bitcoin, 240, BITTREX", "k": "head"},
      {"d": "2017-06-24T12:00:00Z", "p": 0.3827, "t": "MA (231, close)", "k": "ma"},
      {"d": "2017-06-24T12:00:00Z", "p": 0.3691, "t": "MA (7, close)", "k": "ma"},
      {"d": "2017-06-24T12:00:00Z", "p": 0.3555, "t": "MA (77, close)", "k": "ma"},
      {"d": "2018-03-27T10:00:00Z", "p": 0.0682, "t": "0.06883238", "k": "box"},
      {"d": "2018-03-30T06:00:00Z", "p": 0.0537, "t": "01:29:00", "k": "box"}
    ],
    "last": [{"p": 0.06883238}]
  },
  "encoding": {
    "x": {
      "type": "temporal",
      "scale": {"type": "utc", "domain": [1498089600000, 1521309600000]},
      "axis": {
        "orient": "bottom",
        "values": [1498867200000, 1501545600000, 1504224000000, 1506816000000, 1509494400000, 1512086400000, 1514764800000, 1517443200000, 1519862400000],
        "labelExpr": "utcmonth(datum.value) == 0 ? utcFormat(datum.value, '%Y') : utcFormat(datum.value, '%b')",
        "grid": true,
        "gridColor": "#363a47",
        "ticks": false,
        "domain": false,
        "labelColor": "#c6cad2",
        "labelFont": "Roboto",
        "labelFontSize": 10,
        "labelPadding": 4,
        "title": "Created with TradingView",
        "titleAnchor": "start",
        "titleAlign": "left",
        "titleBaseline": "middle",
        "titleX": 0,
        "titleY": 35,
        "titleFont": "Roboto",
        "titleFontSize": 12,
        "titleFontWeight": "normal",
        "titleColor": "#4a4e58",
        "zindex": 1
      }
    },
    "y": {
      "type": "quantitative",
      "scale": {"domain": [-0.01, 0.41], "nice": false, "zero": false},
      "axis": {
        "orient": "right",
        "values": [0, 0.05, 0.1, 0.15, 0.2, 0.25, 0.3, 0.35, 0.4],
        "labelExpr": "abs(datum.value - 0.05) < 0.000001 ? '' : format(datum.value, '.8f')",
        "grid": true,
        "gridColor": "#363a47",
        "tickSize": 4,
        "tickColor": "#8a8f9a",
        "domain": false,
        "labelColor": "#c6cad2",
        "labelFont": "Roboto",
        "labelFontSize": 10,
        "labelPadding": 3,
        "title": null,
        "zindex": 1
      }
    }
  },
  "layer": [
    {
      "data": {"name": "panels"},
      "transform": [{"filter": "datum.k == 'bg'"}],
      "mark": {"type": "rect", "color": "#131722"},
      "encoding": {
        "x": {"field": "d1", "type": "temporal"},
        "x2": {"field": "d2"},
        "y": {"field": "p1", "type": "quantitative"},
        "y2": {"field": "p2"}
      }
    },
    {
      "data": {"name": "fans"},
      "transform": [{"filter": "datum.k == 'r'"}],
      "mark": {"type": "rule", "clip": true, "color": "#8a1c33", "strokeWidth": 1, "opacity": 0.8},
      "encoding": {
        "x": {"field": "d1", "type": "temporal"},
        "x2": {"field": "d2"},
        "y": {"field": "p1", "type": "quantitative"},
        "y2": {"field": "p2"}
      }
    },
    {
      "data": {"name": "fans"},
      "transform": [{"filter": "datum.k == 'g'"}],
      "mark": {"type": "rule", "clip": true, "color": "#2f7d3b", "strokeWidth": 1, "opacity": 0.9},
      "encoding": {
        "x": {"field": "d1", "type": "temporal"},
        "x2": {"field": "d2"},
        "y": {"field": "p1", "type": "quantitative"},
        "y2": {"field": "p2"}
      }
    },
    {
      "data": {"name": "levels"},
      "transform": [{"filter": "datum.k == 'm'"}],
      "mark": {"type": "rule", "color": "#b93cc8", "strokeWidth": 1.6},
      "encoding": {
        "x": {"field": "d1", "type": "temporal"},
        "x2": {"field": "d2"},
        "y": {"field": "p", "type": "quantitative"}
      }
    },
    {
      "data": {"name": "levels"},
      "transform": [{"filter": "datum.k == 'y'"}],
      "mark": {"type": "rule", "color": "#cdb52e", "strokeWidth": 1.3},
      "encoding": {
        "x": {"field": "d1", "type": "temporal"},
        "x2": {"field": "d2"},
        "y": {"field": "p", "type": "quantitative"}
      }
    },
    {
      "data": {"name": "candles"},
      "mark": {"type": "rule", "strokeWidth": 1},
      "encoding": {
        "x": {"field": "d", "type": "temporal"},
        "y": {"field": "l", "type": "quantitative"},
        "y2": {"field": "h"},
        "color": {"condition": {"test": "datum.c >= datum.o", "value": "#cfe3d3"}, "value": "#e28c9b"}
      }
    },
    {
      "data": {"name": "candles"},
      "mark": {"type": "rule", "strokeWidth": 2.4},
      "encoding": {
        "x": {"field": "d", "type": "temporal"},
        "y": {"field": "o", "type": "quantitative"},
        "y2": {"field": "c"},
        "color": {"condition": {"test": "datum.c >= datum.o", "value": "#cfe3d3"}, "value": "#e28c9b"}
      }
    },
    {
      "data": {"name": "ma"},
      "mark": {"type": "line", "interpolate": "monotone", "strokeWidth": 1.4},
      "encoding": {
        "x": {"field": "d", "type": "temporal"},
        "y": {"field": "v", "type": "quantitative"},
        "color": {
          "field": "s",
          "type": "nominal",
          "scale": {"domain": ["MA231", "MA77", "MA7"], "range": ["#f4f4f4", "#f39c28", "#3cdc4f"]},
          "legend": null
        }
      }
    },
    {
      "data": {"name": "last"},
      "mark": {"type": "rule", "color": "#a9aeb8", "strokeWidth": 1, "strokeDash": [2, 2]},
      "encoding": {
        "y": {"field": "p", "type": "quantitative"}
      }
    },
    {
      "data": {"name": "panels"},
      "transform": [{"filter": "datum.k == 'box'"}],
      "mark": {"type": "rect", "color": "#53b987"},
      "encoding": {
        "x": {"field": "d1", "type": "temporal"},
        "x2": {"field": "d2"},
        "y": {"field": "p1", "type": "quantitative"},
        "y2": {"field": "p2"}
      }
    },
    {
      "data": {"name": "labels"},
      "transform": [{"filter": "datum.k == 'box'"}],
      "mark": {"type": "text", "align": "center", "baseline": "middle", "font": "Roboto", "fontSize": 11, "color": "#ffffff"},
      "encoding": {
        "x": {"field": "d", "type": "temporal"},
        "y": {"field": "p", "type": "quantitative"},
        "text": {"field": "t"}
      }
    },
    {
      "data": {"name": "labels"},
      "transform": [{"filter": "datum.k == 'ma'"}],
      "mark": {"type": "text", "align": "left", "baseline": "middle", "font": "Roboto", "fontSize": 12, "color": "#c9ccd4"},
      "encoding": {
        "x": {"field": "d", "type": "temporal"},
        "y": {"field": "p", "type": "quantitative"},
        "text": {"field": "t"}
      }
    },
    {
      "data": {"name": "labels"},
      "transform": [{"filter": "datum.k == 'head'"}],
      "mark": {"type": "text", "align": "left", "baseline": "middle", "font": "Roboto", "fontSize": 12, "fontWeight": "bold", "color": "#d6d9e0"},
      "encoding": {
        "x": {"field": "d", "type": "temporal"},
        "y": {"field": "p", "type": "quantitative"},
        "text": {"field": "t"}
      }
    }
  ],
  "config": {
    "view": {"fill": "#131722", "stroke": "#50555f"}
  }
}
